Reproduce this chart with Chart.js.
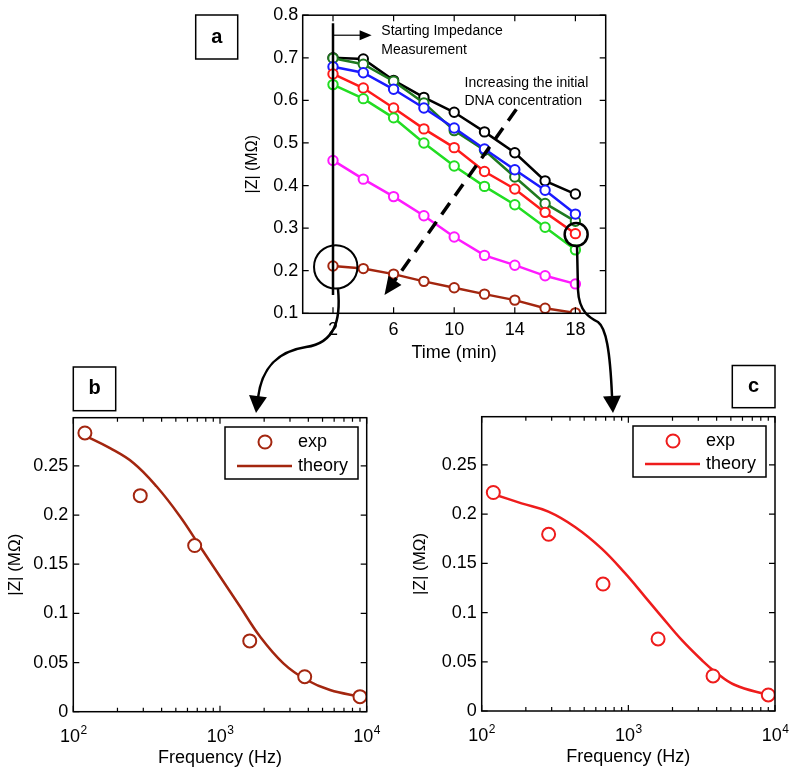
<!DOCTYPE html>
<html>
<head>
<meta charset="utf-8">
<title>Impedance vs time and frequency</title>
<script src="https://cdn.jsdelivr.net/npm/chart.js@4.4.1/dist/chart.umd.min.js"></script>
<style>
  body { margin: 0; background: #fff; }
  #wrap { position: relative; width: 795px; height: 775px; }
  #wrap canvas { position: absolute; left: 0; top: 0; }
</style>
</head>
<body>
<div id="wrap">
  <canvas id="chartA" width="795" height="775"></canvas>
  <canvas id="chartB" width="795" height="775"></canvas>
  <canvas id="chartC" width="795" height="775"></canvas>
  <canvas id="overlay" width="795" height="775"></canvas>
</div>
<script>
// ---- panel a: |Z| vs time for increasing DNA concentration ----
const times = [2, 4, 6, 8, 10, 12, 14, 16, 18];
const zBlack     = [0.700, 0.697, 0.647, 0.607, 0.572, 0.526, 0.477, 0.411, 0.380];
const zDarkGreen = [0.699, 0.685, 0.645, 0.594, 0.529, 0.483, 0.420, 0.358, 0.316];
const zBlue      = [0.679, 0.665, 0.626, 0.582, 0.535, 0.486, 0.437, 0.389, 0.333];
const zRed       = [0.662, 0.629, 0.582, 0.533, 0.489, 0.433, 0.392, 0.337, 0.287];
const zGreen     = [0.637, 0.604, 0.559, 0.500, 0.446, 0.398, 0.355, 0.302, 0.249];
const zMagenta   = [0.459, 0.415, 0.374, 0.329, 0.279, 0.236, 0.213, 0.188, 0.169];
const zBrown     = [0.211, 0.205, 0.192, 0.175, 0.160, 0.145, 0.131, 0.112, 0.101];
const timeTicks = [2, 6, 10, 14, 18];
const zTicksA = [0.1, 0.2, 0.3, 0.4, 0.5, 0.6, 0.7, 0.8];

// ---- panels b and c: |Z| vs frequency ----
const freqExp = [120, 286, 672, 1595, 3780, 9000];
const expB = [0.2835, 0.2197, 0.169, 0.072, 0.0356, 0.0153];
const expC = [0.222, 0.1795, 0.129, 0.0732, 0.0356, 0.0163];
const freqTheoryB = [120, 178, 257, 370, 534, 731, 1000, 1369, 1874, 2704, 3900, 5623, 9010];
const theoryB = [0.2807, 0.268, 0.253, 0.229, 0.1986, 0.168, 0.1375, 0.107, 0.0764, 0.0492, 0.0322, 0.022, 0.0153];
const freqTheoryC = [119, 187, 285, 433, 658, 949, 1300, 1687, 2310, 3162, 3896, 5337, 9010];
const theoryC = [0.2205, 0.211, 0.2026, 0.187, 0.165, 0.140, 0.116, 0.0959, 0.0722, 0.0518, 0.040, 0.0264, 0.0163];
const freqDecades = [100, 1000, 10000];
const decadeLabels = { 100: ['10', '2'], 1000: ['10', '3'], 10000: ['10', '4'] };
const zTicksBC = [0, 0.05, 0.1, 0.15, 0.2, 0.25];

const FONT = "'Liberation Sans', Arial, Helvetica, sans-serif";
Chart.defaults.font.family = FONT;
Chart.defaults.color = '#000';

const BROWN = '#a3260f';

function pts(xs, ys) {
    return xs.map((x, i) => ({ x: x, y: ys[i] }));
}

// box around the plot area + inward tick marks on all four sides
const framePlugin = {
    id: 'frame',
    afterDraw(chart) {
        const { ctx, chartArea: a, scales } = chart;
        ctx.save();
        ctx.strokeStyle = '#000';
        ctx.lineWidth = 1.5;
        ctx.strokeRect(a.left, a.top, a.right - a.left, a.bottom - a.top);
        ctx.lineWidth = 1.2;
        ctx.beginPath();
        scales.x.ticks.forEach(t => {
            const px = scales.x.getPixelForValue(t.value);
            const len = t.major === false ? 4 : 6;
            ctx.moveTo(px, a.bottom); ctx.lineTo(px, a.bottom - len);
            ctx.moveTo(px, a.top); ctx.lineTo(px, a.top + len);
        });
        scales.y.ticks.forEach(t => {
            const py = scales.y.getPixelForValue(t.value);
            ctx.moveTo(a.left, py); ctx.lineTo(a.left + 6, py);
            ctx.moveTo(a.right, py); ctx.lineTo(a.right - 6, py);
        });
        ctx.stroke();
        ctx.restore();
    }
};

// "10" with a raised exponent under each decade of the log axis
const decadeLabelPlugin = {
    id: 'decadeLabels',
    afterDraw(chart) {
        const { ctx, chartArea: a, scales: { x } } = chart;
        ctx.save();
        ctx.fillStyle = '#000';
        ctx.textBaseline = 'alphabetic';
        ctx.textAlign = 'left';
        freqDecades.forEach(d => {
            const [base, exp] = decadeLabels[d];
            const px = x.getPixelForValue(d);
            ctx.font = '18px ' + FONT;
            const w1 = ctx.measureText(base).width;
            ctx.font = '12px ' + FONT;
            const w2 = ctx.measureText(exp).width;
            const start = px - (w1 + w2) / 2;
            ctx.font = '18px ' + FONT;
            ctx.fillText(base, start, a.bottom + 30);
            ctx.font = '12px ' + FONT;
            ctx.fillText(exp, start + w1 + 0.5, a.bottom + 22);
        });
        ctx.restore();
    }
};

function arrowHead(ctx, tipX, tipY, fromX, fromY, len, half) {
    const ang = Math.atan2(tipY - fromY, tipX - fromX);
    ctx.beginPath();
    ctx.moveTo(tipX, tipY);
    ctx.lineTo(tipX - len * Math.cos(ang) + half * Math.sin(ang), tipY - len * Math.sin(ang) - half * Math.cos(ang));
    ctx.lineTo(tipX - len * Math.cos(ang) - half * Math.sin(ang), tipY - len * Math.sin(ang) + half * Math.cos(ang));
    ctx.closePath();
    ctx.fill();
}

// annotations of panel a, placed in data units
const notesPlugin = {
    id: 'notes',
    afterDraw(chart) {
        const { ctx, scales: { x, y } } = chart;
        const X = v => x.getPixelForValue(v);
        const Y = v => y.getPixelForValue(v);
        ctx.save();
        ctx.strokeStyle = '#000';
        ctx.fillStyle = '#000';

        // start line
        ctx.lineWidth = 2.5;
        ctx.beginPath();
        ctx.moveTo(X(2), Y(0.781));
        ctx.lineTo(X(2), Y(0.143));
        ctx.stroke();

        // small arrow to the label
        ctx.lineWidth = 1.2;
        ctx.beginPath();
        ctx.moveTo(X(2), Y(0.753));
        ctx.lineTo(X(3.8), Y(0.753));
        ctx.stroke();
        arrowHead(ctx, X(4.55), Y(0.753), X(2), Y(0.753), 12, 5);

        ctx.font = '14px ' + FONT;
        ctx.textBaseline = 'middle';
        ctx.textAlign = 'left';
        ctx.fillText('Starting Impedance', X(5.19), Y(0.763));
        ctx.fillText('Measurement', X(5.19), Y(0.718));
        ctx.fillText('Increasing the initial', X(10.68), Y(0.640));
        ctx.fillText('DNA concentration', X(10.68), Y(0.598));

        // dashed arrow
        const x0 = X(14.1), y0 = Y(0.579), x1 = X(5.4), y1 = Y(0.143);
        const ang = Math.atan2(y1 - y0, x1 - x0);
        ctx.lineWidth = 3.5;
        ctx.setLineDash([14, 9]);
        ctx.beginPath();
        ctx.moveTo(x0, y0);
        ctx.lineTo(x1 - 14 * Math.cos(ang), y1 - 14 * Math.sin(ang));
        ctx.stroke();
        ctx.setLineDash([]);
        arrowHead(ctx, x1, y1, x0, y0, 18, 8);

        // highlight circles
        ctx.lineWidth = 2;
        ctx.beginPath();
        ctx.arc(X(2.18), Y(0.209), 21.7, 0, Math.PI * 2);
        ctx.stroke();
        ctx.lineWidth = 2.5;
        ctx.beginPath();
        ctx.arc(X(18.05), Y(0.285), 11.5, 0, Math.PI * 2);
        ctx.stroke();
        ctx.restore();
    }
};

// framed legend inside the plot area of panels b and c
const boxLegendPlugin = {
    id: 'boxLegend',
    afterDraw(chart, args, o) {
        const { ctx, chartArea: a } = chart;
        const [expDs, thDs] = chart.data.datasets;
        const bx = a.right - o.right - o.width, by = a.top + o.top;
        ctx.save();
        ctx.fillStyle = '#fff';
        ctx.fillRect(bx, by, o.width, o.height);
        ctx.strokeStyle = '#000';
        ctx.lineWidth = 1.5;
        ctx.strokeRect(bx, by, o.width, o.height);

        ctx.strokeStyle = expDs.pointBorderColor;
        ctx.lineWidth = 2;
        ctx.beginPath();
        ctx.arc(bx + 40, by + 15, 6.5, 0, Math.PI * 2);
        ctx.stroke();

        ctx.strokeStyle = thDs.borderColor;
        ctx.lineWidth = 2.5;
        ctx.beginPath();
        ctx.moveTo(bx + 12, by + o.height - 13);
        ctx.lineTo(bx + 67, by + o.height - 13);
        ctx.stroke();

        ctx.fillStyle = '#000';
        ctx.font = '18px ' + FONT;
        ctx.textBaseline = 'middle';
        ctx.fillText(expDs.label, bx + 73, by + 15);
        ctx.fillText(thDs.label, bx + 73, by + o.height - 13);
        ctx.restore();
    }
};

const seriesA = [
    { label: 'c1', data: zBlack, color: '#000000' },
    { label: 'c2', data: zDarkGreen, color: '#1f7a1f' },
    { label: 'c3', data: zBlue, color: '#1a1aff' },
    { label: 'c4', data: zRed, color: '#ff1a1a' },
    { label: 'c5', data: zGreen, color: '#22dd22' },
    { label: 'c6', data: zMagenta, color: '#ff1aff' },
    { label: 'c7', data: zBrown, color: BROWN }
];

new Chart(document.getElementById('chartA'), {
    type: 'scatter',
    data: {
        datasets: seriesA.map((s, i) => ({
            label: s.label,
            data: pts(times, s.data),
            showLine: true,
            borderColor: s.color,
            borderWidth: 2.5,
            pointRadius: 4.7,
            pointBorderWidth: 2,
            pointBorderColor: s.color,
            pointBackgroundColor: '#fff',
            order: seriesA.length - i
        }))
    },
    options: {
        responsive: false,
        animation: false,
        devicePixelRatio: 1,
        layout: { padding: { left: 242.7, top: 13.3, right: 189.3, bottom: 410.9 } },
        plugins: { legend: { display: false }, tooltip: { enabled: false } },
        scales: {
            x: {
                type: 'linear', min: 0, max: 20,
                afterBuildTicks: s => { s.ticks = timeTicks.map(v => ({ value: v })); },
                afterFit: s => { s.height = 50.8; },
                grid: { display: false, drawTicks: false },
                border: { display: false },
                ticks: { font: { size: 18 }, padding: 6, maxRotation: 0, autoSkip: false },
                title: { display: true, text: 'Time (min)', font: { size: 18 }, padding: 0 }
            },
            y: {
                min: 0.1, max: 0.8,
                afterBuildTicks: s => { s.ticks = zTicksA.map(v => ({ value: v })); },
                afterFit: s => { s.width = 60; },
                grid: { display: false, drawTicks: false },
                border: { display: false },
                ticks: { font: { size: 18 }, padding: 4.4, callback: v => v.toFixed(1) },
                title: { display: true, text: '|Z| (MΩ)', font: { size: 16 }, padding: 0 }
            }
        }
    },
    plugins: [notesPlugin, framePlugin]
});

function logTicks() {
    const out = [];
    freqDecades.forEach((d, i) => {
        out.push({ value: d, major: true });
        if (i < freqDecades.length - 1) {
            for (let m = 2; m <= 9; m++) out.push({ value: d * m, major: false });
        }
    });
    return out;
}

function freqChart(id, expVals, thX, thY, color, pad, yWidth, xHeight, legendBox) {
    return new Chart(document.getElementById(id), {
        type: 'scatter',
        data: {
            datasets: [
                {
                    label: 'exp',
                    data: pts(freqExp, expVals),
                    showLine: false,
                    pointRadius: 6.5,
                    pointBorderWidth: 2,
                    pointBorderColor: color,
                    pointBackgroundColor: '#fff',
                    borderColor: color,
                    order: 0
                },
                {
                    label: 'theory',
                    data: pts(thX, thY),
                    showLine: true,
                    borderColor: color,
                    borderWidth: 2.5,
                    pointRadius: 0,
                    tension: 0.4,
                    order: 1
                }
            ]
        },
        options: {
            responsive: false,
            animation: false,
            devicePixelRatio: 1,
            layout: { padding: pad },
            plugins: {
                legend: { display: false },
                tooltip: { enabled: false },
                boxLegend: legendBox
            },
            scales: {
                x: {
                    type: 'logarithmic', min: 100, max: 10000,
                    afterBuildTicks: s => { s.ticks = logTicks(); },
                    afterFit: s => { s.height = xHeight; },
                    grid: { display: false, drawTicks: false },
                    border: { display: false },
                    ticks: { font: { size: 18 }, padding: 8, maxRotation: 0, autoSkip: false, callback: () => '' },
                    title: { display: true, text: 'Frequency (Hz)', font: { size: 18 }, padding: 0 }
                },
                y: {
                    min: 0, max: 0.299,
                    afterBuildTicks: s => { s.ticks = zTicksBC.map(v => ({ value: v })); },
                    afterFit: s => { s.width = yWidth; },
                    grid: { display: false, drawTicks: false },
                    border: { display: false },
                    ticks: { font: { size: 18 }, padding: 5, callback: v => String(Number(v.toFixed(2))) },
                    title: { display: true, text: '|Z| (MΩ)', font: { size: 17 }, padding: 0 }
                }
            }
        },
        plugins: [framePlugin, boxLegendPlugin, decadeLabelPlugin]
    });
}

freqChart('chartB', expB, freqTheoryB, theoryB, BROWN,
    { left: 4.8, top: 417.7, right: 428.3, bottom: 5.9 }, 68.5, 57.4,
    { right: 8.7, top: 9.3, width: 133, height: 52 });

freqChart('chartC', expC, freqTheoryC, theoryC, '#ee1c1c',
    { left: 409.8, top: 416.7, right: 20, bottom: 7.5 }, 71.9, 56.5,
    { right: 9, top: 9.3, width: 133, height: 51 });

// panel letters and the connectors between panels
(function drawOverlay() {
    const ctx = document.getElementById('overlay').getContext('2d');
    ctx.strokeStyle = '#000';
    ctx.fillStyle = '#000';

    const boxes = [
        { t: 'a', x: 195.7, y: 15, w: 42, h: 44 },
        { t: 'b', x: 73.3, y: 367, w: 42.4, h: 43.7 },
        { t: 'c', x: 732.3, y: 365.5, w: 42.7, h: 42.2 }
    ];
    ctx.font = 'bold 20px ' + FONT;
    ctx.textAlign = 'center';
    ctx.textBaseline = 'middle';
    boxes.forEach(b => {
        ctx.lineWidth = 1.5;
        ctx.strokeRect(b.x, b.y, b.w, b.h);
        ctx.fillText(b.t, b.x + b.w / 2, b.y + b.h / 2);
    });

    ctx.lineWidth = 2.5;
    ctx.beginPath();
    ctx.moveTo(338, 289);
    ctx.bezierCurveTo(341, 320, 335, 343, 306, 347);
    ctx.bezierCurveTo(280, 351, 262, 365, 258, 398);
    ctx.stroke();
    arrowHead(ctx, 256, 413, 258, 396, 17, 9);

    ctx.beginPath();
    ctx.moveTo(577, 245);
    ctx.lineTo(578, 290);
    ctx.bezierCurveTo(579, 312, 590, 318, 598, 322);
    ctx.bezierCurveTo(606, 328, 610, 350, 612, 396);
    ctx.stroke();
    arrowHead(ctx, 613, 413, 612, 396, 17, 9);
})();
</script>
</body>
</html>
